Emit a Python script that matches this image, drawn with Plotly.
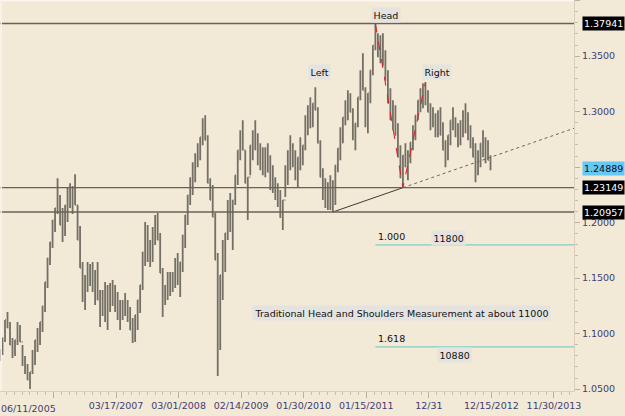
import plotly.graph_objects as go
import pandas as pd

# ---------------- data ----------------
start_date = "2005-06-06"
bar_step = "14D"

high = [1.0853,1.0961,1.1123,1.1195,1.1105,1.0961,1.0943,1.1105,1.1078,1.0898,
        1.0799,1.0727,1.0655,1.0853,1.0943,1.1051,1.1105,1.1249,1.1465,1.1681,
        1.1825,1.2023,1.2131,1.2401,1.2248,1.2131,1.2158,1.2311,1.2356,1.2329,
        1.2437,1.2158,1.1969,1.1645,1.1528,1.1645,1.1627,1.1645,1.1573,1.1645,
        1.1393,1.1393,1.1465,1.1438,1.1456,1.1483,1.1438,1.1375,1.1303,1.1303,
        1.1366,1.1303,1.1240,1.1141,1.1168,1.1303,1.1438,1.1735,1.2005,1.1978,
        1.1843,1.1960,1.2068,1.2086,1.1906,1.1591,1.1438,1.1555,1.1555,1.1555,
        1.1681,1.1726,1.1645,1.1888,1.2068,1.2248,1.2410,1.2545,1.2626,1.2716,
        1.2770,1.2941,1.2968,1.2788,1.2401,1.2338,1.2086,1.1726,1.1528,1.1843,
        1.1906,1.2203,1.2266,1.2203,1.2428,1.2653,1.2833,1.2923,1.2653,1.2410,
        1.2698,1.2833,1.2923,1.2806,1.2716,1.2680,1.2680,1.2716,1.2608,1.2518,
        1.2410,1.2356,1.2293,1.2203,1.2518,1.2653,1.2788,1.2716,1.2653,1.2590,
        1.2770,1.2698,1.2968,1.3058,1.3130,1.3076,1.3220,1.3040,1.2743,1.2491,
        1.2401,1.2365,1.2428,1.2383,1.2518,1.2671,1.2860,1.2950,1.3103,1.3193,
        1.3166,1.3031,1.2896,1.3130,1.3373,1.3526,1.3220,1.3166,1.3373,1.3598,
        1.3794,1.3706,1.3688,1.3706,1.3553,1.3373,1.3211,1.3103,1.3058,1.2896,
        1.2698,1.2608,1.2716,1.2653,1.2725,1.2878,1.2968,1.3103,1.3211,1.3256,
        1.3265,1.3193,1.3076,1.3040,1.2986,1.3013,1.3040,1.2905,1.2743,1.2788,
        1.2923,1.3040,1.2950,1.2896,1.2923,1.3013,1.3076,1.2995,1.2878,1.2770,
        1.2716,1.2653,1.2716,1.2833,1.2770,1.2743,1.2608]

low = [1.0754,1.0808,1.0925,1.1051,1.0898,1.0781,1.0799,1.0898,1.0925,1.0709,
       1.0637,1.0583,1.0502,1.0637,1.0718,1.0835,1.0898,1.1015,1.1195,1.1411,
       1.1618,1.1771,1.1915,1.2077,1.1978,1.1825,1.1879,1.2005,1.2131,1.2077,
       1.2158,1.1843,1.1591,1.1285,1.1213,1.1375,1.1429,1.1375,1.1258,1.1303,
       1.1060,1.1159,1.1105,1.1033,1.1195,1.1249,1.1195,1.1123,1.1033,1.1123,
       1.1159,1.1105,1.1033,1.0916,1.0925,1.1033,1.1186,1.1393,1.1609,1.1645,
       1.1600,1.1645,1.1798,1.1843,1.1546,1.1150,1.1258,1.1303,1.1339,1.1375,
       1.1411,1.1438,1.1330,1.1555,1.1771,1.1978,1.2158,1.2248,1.2365,1.2500,
       1.2563,1.2698,1.2743,1.2356,1.2203,1.2050,1.1663,1.0619,1.0853,1.1303,
       1.1555,1.1843,1.1915,1.1753,1.2158,1.2338,1.2563,1.2653,1.2356,1.2023,
       1.2428,1.2563,1.2653,1.2518,1.2473,1.2428,1.2410,1.2455,1.2293,1.2266,
       1.2203,1.2140,1.2041,1.1933,1.2230,1.2338,1.2473,1.2500,1.2383,1.2320,
       1.2473,1.2518,1.2653,1.2788,1.2851,1.2860,1.3013,1.2716,1.2410,1.2203,
       1.2131,1.2113,1.2113,1.2096,1.2158,1.2455,1.2563,1.2716,1.2878,1.2923,
       1.2995,1.2743,1.2653,1.2860,1.3103,1.3193,1.2860,1.2806,1.3076,1.3328,
       1.3553,1.3490,1.3436,1.3418,1.3283,1.3076,1.2923,1.2833,1.2788,1.2590,
       1.2401,1.2315,1.2500,1.2383,1.2536,1.2653,1.2743,1.2923,1.2995,1.3031,
       1.3058,1.2995,1.2833,1.2860,1.2770,1.2770,1.2788,1.2653,1.2500,1.2563,
       1.2698,1.2833,1.2770,1.2680,1.2698,1.2770,1.2806,1.2743,1.2671,1.2590,
       1.2365,1.2428,1.2500,1.2590,1.2536,1.2563,1.2473]

close = [1.0853,1.0961,1.1123,1.1051,1.0898,1.0871,1.0943,1.1006,1.0925,1.0718,
         1.0655,1.0583,1.0655,1.0835,1.0943,1.1006,1.1105,1.1249,1.1465,1.1681,
         1.1825,1.2023,1.2131,1.2113,1.1978,1.2023,1.2158,1.2248,1.2203,1.2302,
         1.2158,1.1843,1.1591,1.1375,1.1510,1.1528,1.1510,1.1420,1.1474,1.1303,
         1.1276,1.1285,1.1240,1.1330,1.1366,1.1321,1.1249,1.1168,1.1213,1.1267,
         1.1204,1.1141,1.1033,1.1051,1.1168,1.1303,1.1438,1.1735,1.1816,1.1726,
         1.1807,1.1933,1.1969,1.1843,1.1546,1.1348,1.1429,1.1447,1.1465,1.1546,
         1.1582,1.1492,1.1645,1.1888,1.2068,1.2248,1.2401,1.2500,1.2608,1.2671,
         1.2770,1.2860,1.2743,1.2356,1.2203,1.2050,1.1663,1.1195,1.1528,1.1735,
         1.1906,1.2095,1.1978,1.2203,1.2428,1.2653,1.2788,1.2653,1.2356,1.2410,
         1.2698,1.2788,1.2662,1.2599,1.2554,1.2545,1.2590,1.2455,1.2392,1.2311,
         1.2248,1.2167,1.2068,1.2203,1.2500,1.2635,1.2608,1.2518,1.2455,1.2590,
         1.2608,1.2698,1.2923,1.2995,1.2968,1.3076,1.3013,1.2716,1.2410,1.2266,
         1.2239,1.2275,1.2239,1.2338,1.2518,1.2671,1.2833,1.2950,1.3058,1.3085,
         1.2995,1.2779,1.2896,1.3130,1.3364,1.3193,1.2986,1.3166,1.3373,1.3598,
         1.3598,1.3562,1.3562,1.3418,1.3283,1.3076,1.2968,1.2923,1.2788,1.2590,
         1.2464,1.2608,1.2518,1.2635,1.2725,1.2860,1.2968,1.3103,1.3148,1.3166,
         1.3094,1.2995,1.2950,1.2878,1.2896,1.2914,1.2788,1.2653,1.2680,1.2788,
         1.2923,1.2860,1.2788,1.2815,1.2896,1.2941,1.2869,1.2779,1.2680,1.2590,
         1.2545,1.2608,1.2716,1.2653,1.2653,1.2563,1.2489]

first_open = 1.0800

key_levels = [1.37941, 1.23149, 1.20957]
last_price = 1.24889

neck_dates = ["2010-07-12", "2011-08-08"]
neck_prices = [1.20957, 1.23149]

hs_dates = ["2011-03-07", "2011-08-08", "2011-12-12"]
hs_prices = [1.37941, 1.23149, 1.3265]

target_start = "2011-03-07"
target_levels = [1.1800, 1.0880]
target_ratio = ["1.000", "1.618"]
target_text = ["11800", "10880"]

x_range = ["2005-06-06", "2014-03-22"]
x_tickvals = ["2006-03-31", "2007-03-17", "2008-03-01", "2009-02-14", "2010-01-30",
              "2011-01-15", "2011-12-31", "2012-12-15", "2013-11-30"]
x_ticktext = ["", "03/17/2007", "03/01/2008", "02/14/2009", "01/30/2010",
              "01/15/2011", "12/31", "12/15/2012", "11/30/2013"]
first_label = "06/11/2005"

y_range = [1.0483, 1.4006]
y_tickvals = [1.05, 1.10, 1.15, 1.20, 1.25, 1.30, 1.35, 1.40]
y_ticktext = ["1.0500", "1.1000", "1.1500", "1.2000", "", "1.3000", "1.3500", "1.4000"]

# ---------------- figure ----------------
dates = pd.date_range(start_date, periods=len(close), freq=bar_step)
opens = [first_open] + close[:-1]

BG = "#f2e9d6"
FONT = "DejaVu Sans"
AXC = "#3e3e72"
BAR = "#747066"

fig = go.Figure()
fig.add_trace(go.Ohlc(
    x=dates, open=opens, high=high, low=low, close=close,
    increasing=dict(line=dict(color=BAR, width=1.8)),
    decreasing=dict(line=dict(color=BAR, width=1.8)),
    tickwidth=0.3, showlegend=False, hoverinfo="skip"))

# neckline (solid) and its dotted extension to the right edge
t0 = pd.Timestamp(neck_dates[0]); t1 = pd.Timestamp(neck_dates[1])
slope = (neck_prices[1] - neck_prices[0]) / (t1 - t0).days
t_end = pd.Timestamp(x_range[1])
ext_price = neck_prices[1] + slope * (t_end - t1).days
fig.add_trace(go.Scatter(x=neck_dates, y=neck_prices, mode="lines",
                         line=dict(color="#3f3a34", width=1), showlegend=False, hoverinfo="skip"))
fig.add_trace(go.Scatter(x=[neck_dates[1], x_range[1]], y=[neck_prices[1], ext_price], mode="lines",
                         line=dict(color="#6a655c", width=1, dash="dot"), showlegend=False, hoverinfo="skip"))
# red head -> low -> right shoulder path
fig.add_trace(go.Scatter(x=hs_dates, y=hs_prices, mode="lines",
                         line=dict(color="#d8262b", width=1.1, dash="dash"), showlegend=False, hoverinfo="skip"))

shapes = []
for lv in key_levels:
    shapes.append(dict(type="line", xref="paper", x0=0, x1=1, yref="y", y0=lv, y1=lv,
                       line=dict(color="#6a6258", width=1.3), layer="above"))
for lv in target_levels:
    shapes.append(dict(type="line", xref="x", x0=target_start, x1=x_range[1], yref="y", y0=lv, y1=lv,
                       line=dict(color="#86cbc2", width=1.2), layer="above"))
# light bevel border on top / left
shapes.append(dict(type="line", xref="paper", yref="paper", x0=0, x1=1, y0=0.998, y1=0.998,
                   line=dict(color="#fbf7ee", width=1.5)))
shapes.append(dict(type="line", xref="paper", yref="paper", x0=0.002, x1=0.002, y0=0, y1=1,
                   line=dict(color="#fbf7ee", width=1.5)))

W_PLOT = 574.0
def px(xp):
    return xp / W_PLOT

ann = []
box = dict(bgcolor="#e4e3df", borderpad=1.5, font=dict(family=FONT, size=9.5, color="#111111"),
           showarrow=False, xanchor="center")
ann.append(dict(text="Head", xref="paper", x=px(386), yref="y", y=1.3868, **box))
ann.append(dict(text="Left", xref="paper", x=px(319), yref="y", y=1.3355, **box))
ann.append(dict(text="Right", xref="paper", x=px(437), yref="y", y=1.3355, **box))
ann.append(dict(text="Traditional Head and Shoulders Measurement at about 11000",
                xref="paper", x=px(401), yref="y", y=1.1186, **box))
ann.append(dict(text=target_text[0], xref="paper", x=px(448), yref="y", y=1.1861, **box))
ann.append(dict(text=target_text[1], xref="paper", x=px(454), yref="y", y=1.0808, **box))
for r, lv in zip(target_ratio, target_levels):
    ann.append(dict(text=r, xref="paper", x=px(376), xanchor="left", yref="y", y=lv,
                    yanchor="bottom", yshift=1, showarrow=False,
                    font=dict(family=FONT, size=9.5, color="#111111")))

# boxed price labels on the right axis
for lv in key_levels:
    ann.append(dict(text="%.5f" % lv, xref="paper", x=px(582), xanchor="left", yref="y", y=lv,
                    bgcolor="#000000", borderpad=1, showarrow=False,
                    font=dict(family=FONT, size=9.5, color="#ffffff")))
ann.append(dict(text="%.5f" % last_price, xref="paper", x=px(582), xanchor="left", yref="y", y=last_price,
                bgcolor="#66c8f4", borderpad=1, showarrow=False,
                font=dict(family=FONT, size=9.5, color="#0a0a20")))

ann.append(dict(text=first_label, xref="paper", x=px(28), xanchor="center", yref="paper", y=-17 / 391.0,
                yanchor="middle", showarrow=False, font=dict(family=FONT, size=9.5, color=AXC)))

fig.update_layout(
    width=625, height=416,
    margin=dict(l=0, r=51, t=0, b=25),
    paper_bgcolor=BG, plot_bgcolor=BG,
    shapes=shapes, annotations=ann,
    xaxis=dict(type="date", range=x_range, rangeslider=dict(visible=False),
               tickmode="array", tickvals=x_tickvals, ticktext=x_ticktext,
               ticks="outside", ticklen=6, tickcolor="#b9af9c", showgrid=False,
               showline=True, linecolor="#d9cfbc", zeroline=False,
               tickfont=dict(family=FONT, size=9.5, color=AXC),
               minor=dict(ticks="outside", ticklen=3, tickcolor="#c6bca8",
                          tick0="2007-03-17", dtick=43.75 * 86400000, showgrid=False)),
    yaxis=dict(side="right", range=y_range, tickmode="array", tickvals=y_tickvals,
               ticktext=y_ticktext,
               ticks="outside", ticklen=5, tickcolor="#b9af9c", showgrid=False,
               showline=True, linecolor="#d9cfbc", zeroline=False,
               tickfont=dict(family=FONT, size=9.5, color=AXC),
               minor=dict(ticks="outside", ticklen=3, tickcolor="#c6bca8",
                          tick0=1.0, dtick=0.01, showgrid=False)),
)

fig.write_html("out.html")
